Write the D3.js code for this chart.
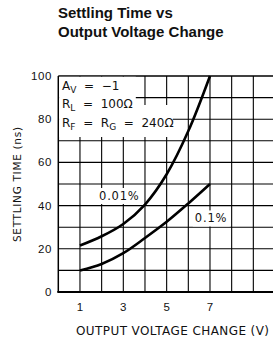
<!DOCTYPE html>
<html><head><meta charset="utf-8">
<script src="https://cdn.jsdelivr.net/npm/d3@7"></script>
<style>html,body{margin:0;padding:0;background:#fff;overflow:hidden}</style>
</head><body><svg id="c" width="273" height="344"></svg>
<script>
const titleLines = ["Settling Time vs", "Output Voltage Change"];
const xTicks = [1, 3, 5, 7];
const yTicks = [0, 20, 40, 60, 80, 100];
const xGrid = [1, 2, 3, 4, 5, 6, 7, 8, 9];
const yGrid = [10, 20, 30, 40, 50, 60, 70, 80, 90];
const xLabel = "OUTPUT VOLTAGE CHANGE (V)";
const yLabel = "SETTLING TIME (ns)";
const series001X = [1, 2, 3, 4, 5, 6, 7];
const series001Y = [21.5, 25.8, 31.5, 40.5, 54.5, 74.5, 100];
const series01X = [1, 2, 3, 4, 5, 6, 7];
const series01Y = [10, 13, 18, 25, 32.5, 41, 50];
const seriesLabels = ["0.01%", "0.1%"];

const svg = d3.select("#c");
const L = 58.3, R = 275, T = 76, B = 292;
const x = d3.scaleLinear().domain([0, 10]).range([L, R]);
const y = d3.scaleLinear().domain([0, 100]).range([B, T]);

// title
svg.append("g").selectAll("text").data(titleLines).join("text")
  .attr("x", 58).attr("y", (d, i) => 18.3 + i * 18.4)
  .attr("font-family", "Liberation Sans, Arial, sans-serif")
  .attr("font-weight", "bold").attr("font-size", 15).attr("fill", "#111")
  .text(d => d);

// grid
const g = svg.append("g");
g.selectAll(".hg").data(yGrid).join("line")
  .attr("x1", L).attr("x2", R).attr("y1", d => y(d)).attr("y2", d => y(d))
  .attr("stroke", "#000").attr("stroke-width", 1.1);
g.selectAll(".vg").data(xGrid).join("line")
  .attr("y1", T).attr("y2", B).attr("x1", d => x(d)).attr("x2", d => x(d))
  .attr("stroke", "#000").attr("stroke-width", 1.1);
// frame
g.append("line").attr("x1", L).attr("x2", R).attr("y1", T).attr("y2", T).attr("stroke", "#000").attr("stroke-width", 1.3);
g.append("line").attr("x1", L).attr("x2", L).attr("y1", T).attr("y2", B).attr("stroke", "#000").attr("stroke-width", 1.5);
g.append("line").attr("x1", L - 1).attr("x2", R).attr("y1", B).attr("y2", B).attr("stroke", "#000").attr("stroke-width", 2);

// annotation white boxes
g.append("rect").attr("x", L + 0.8).attr("y", T + 0.8).attr("width", 135 - L).attr("height", 105 - T).attr("fill", "#fff");
g.append("rect").attr("x", L + 0.8).attr("y", 105).attr("width", 172 - L).attr("height", 32).attr("fill", "#fff");

const af = "DejaVu Sans, sans-serif";
const ann = svg.append("g").attr("font-family", af).attr("font-size", 12).attr("fill", "#111");
function sub(t, main, s, rest) {
  t.append("tspan").text(main);
  t.append("tspan").attr("font-size", 9).attr("dy", 3).text(s);
  t.append("tspan").attr("dy", -3).text(rest);
}
let t1 = ann.append("text").attr("x", 62).attr("y", 89.5).attr("xml:space", "preserve");
sub(t1, "A", "V", "  =  \u22121");
let t2 = ann.append("text").attr("x", 62).attr("y", 108).attr("xml:space", "preserve");
sub(t2, "R", "L", "  =  100\u03A9");
let t3 = ann.append("text").attr("x", 62).attr("y", 126.5).attr("xml:space", "preserve");
t3.append("tspan").text("R");
t3.append("tspan").attr("font-size", 9).attr("dy", 3).text("F");
t3.append("tspan").attr("dy", -3).text("  =  R");
t3.append("tspan").attr("font-size", 9).attr("dy", 3).text("G");
t3.append("tspan").attr("dy", -3).text("  =  240\u03A9");

// curves
const line = d3.line().x(d => x(d[0])).y(d => y(d[1])).curve(d3.curveCatmullRom.alpha(0.5));
svg.append("path").datum(series001X.map((v, i) => [v, series001Y[i]]))
  .attr("d", line).attr("fill", "none").attr("stroke", "#000").attr("stroke-width", 2.6);
svg.append("path").datum(series01X.map((v, i) => [v, series01Y[i]]))
  .attr("d", line).attr("fill", "none").attr("stroke", "#000").attr("stroke-width", 2.6);

// series labels with white backgrounds
const lab = [{t: seriesLabels[0], x: 1.88, y: 42.6, w: 44}, {t: seriesLabels[1], x: 6.3, y: 32.2, w: 37}];
lab.forEach(d => {
  svg.append("rect").attr("x", x(d.x) - 2).attr("y", y(d.y) - 12).attr("width", d.w).attr("height", 16).attr("fill", "#fff");
  svg.append("text").attr("x", x(d.x)).attr("y", y(d.y)).attr("font-family", af)
    .attr("font-size", 11.5).attr("letter-spacing", 0.8).attr("fill", "#111").text(d.t);
});

// tick labels
const tf = "Liberation Sans, Arial, sans-serif";
svg.append("g").selectAll("text").data(yTicks).join("text")
  .attr("x", 52).attr("y", d => y(d) + 4).attr("text-anchor", "end")
  .attr("font-family", tf).attr("font-size", 11.5).attr("letter-spacing", 0.6).attr("fill", "#111")
  .text(d => d);
svg.append("g").selectAll("text").data(xTicks).join("text")
  .attr("x", d => x(d)).attr("y", 311).attr("text-anchor", "middle")
  .attr("font-family", tf).attr("font-size", 11.5).attr("fill", "#111")
  .text(d => d);

// axis labels
svg.append("text").attr("x", 76).attr("y", 335).attr("font-family", af)
  .attr("font-size", 12).attr("textLength", 193).attr("lengthAdjust", "spacing").attr("fill", "#111").text(xLabel);
svg.append("text").attr("transform", "translate(20.5,242) rotate(-90)").attr("font-family", af)
  .attr("font-size", 10.5).attr("textLength", 115).attr("lengthAdjust", "spacing").attr("fill", "#111").text(yLabel);
</script></body></html>
